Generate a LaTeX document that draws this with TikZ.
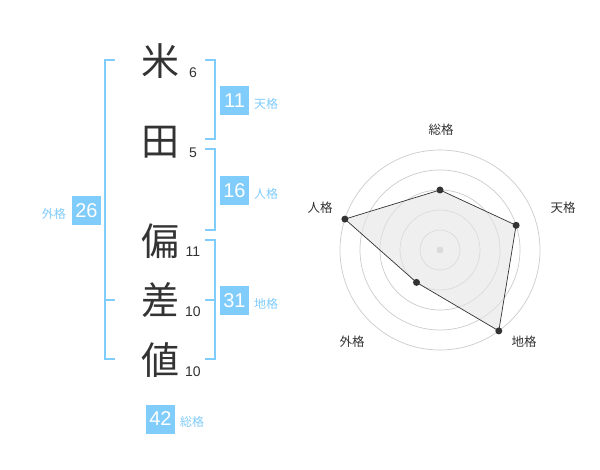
\documentclass[tikz,border=0pt]{standalone}
\usepackage{fontspec}
\setmainfont{Liberation Sans}
\newfontfamily\jp{Noto Sans CJK JP}
\definecolor{skyb}{HTML}{80CCFA}
\definecolor{ink}{HTML}{333333}
\definecolor{ring}{HTML}{CCCCCC}
\tikzset{
  kanji/.style={font=\jp\fontsize{38}{38}\selectfont, text=ink, inner sep=0pt},
  stroke/.style={font=\fontsize{14}{14}\selectfont, text=ink, inner sep=0pt},
  scorebox/.style={fill=skyb, text=white, minimum width=29pt, minimum height=29pt, inner sep=0pt, font=\fontsize{20}{20}\selectfont},
  kaku/.style={font=\jp\fontsize{12}{12}\selectfont, text=skyb, inner sep=0pt},
  bracket/.style={draw=skyb, line width=2pt},
  radlabel/.style={font=\jp\fontsize{12.5}{12.5}\selectfont, text=ink, inner sep=0pt},
  dot/.style={circle, fill=ink, minimum size=7pt, inner sep=0pt},
}
\begin{document}
\begin{tikzpicture}[x=1pt,y=-1pt]
\useasboundingbox[fill=white] (0,0) rectangle (600,470);
% characters
\node[kanji] (c1) at (160,61) {米};
\node[kanji] (c2) at (160,142) {田};
\node[kanji] (c3) at (160,241) {偏};
\node[kanji] (c4) at (160,300) {差};
\node[kanji] (c5) at (160,360) {値};
\node[stroke] (n1) at (193,73) {6};
\node[stroke] (n2) at (193,153) {5};
\node[stroke] (n3) at (193,252) {11};
\node[stroke] (n4) at (193,312) {10};
\node[stroke] (n5) at (193,372) {10};
% brackets
\draw[bracket] (115,60) -- (105,60) -- (105,359) -- (115,359);
\draw[bracket] (105,300) -- (115,300);
\draw[bracket] (205,60) -- (215,60) -- (215,139) -- (205,139);
\draw[bracket] (205,149) -- (215,149) -- (215,230) -- (205,230);
\draw[bracket] (205,240) -- (215,240) -- (215,359) -- (205,359);
\draw[bracket] (205,300) -- (215,300);
% scores
\node[scorebox] (s1) at (234.5,100.5) {11};
\node[kaku, anchor=west] (k1) at (254,104) {天格};
\node[scorebox] (s2) at (234.5,190.5) {16};
\node[kaku, anchor=west] (k2) at (254,194) {人格};
\node[scorebox] (s3) at (234.5,300.5) {31};
\node[kaku, anchor=west] (k3) at (254,304) {地格};
\node[scorebox] (s4) at (86.5,210.5) {26};
\node[kaku, anchor=east] (k4) at (66,214) {外格};
\node[scorebox] (s5) at (160.5,419) {42};
\node[kaku, anchor=west] (k5) at (180,422) {総格};
% radar
\coordinate (c) at (440,250);
\foreach \r in {20,40,60,80,100} \draw[ring, line width=0.7pt] (c) circle[radius=\r];
\fill[ring] (c) circle[radius=3.5];
\coordinate (p1) at (440,190);
\coordinate (p2) at (516.1,225.3);
\coordinate (p3) at (498.8,330.9);
\coordinate (p4) at (416.5,282.4);
\coordinate (p5) at (344.9,219.1);
\fill[black!10, opacity=0.6] (p1) -- (p2) -- (p3) -- (p4) -- (p5) -- cycle;
\draw[ink, line width=0.7pt] (p1) -- (p2) -- (p3) -- (p4) -- (p5) -- cycle;
\node[dot] (d1) at (p1) {};
\node[dot] (d2) at (p2) {};
\node[dot] (d3) at (p3) {};
\node[dot] (d4) at (p4) {};
\node[dot] (d5) at (p5) {};
\node[radlabel] (l1) at (441,130) {総格};
\node[radlabel] (l2) at (563,208) {天格};
\node[radlabel] (l3) at (524,342) {地格};
\node[radlabel] (l4) at (352,342) {外格};
\node[radlabel] (l5) at (320,208) {人格};
\end{tikzpicture}
\end{document}
